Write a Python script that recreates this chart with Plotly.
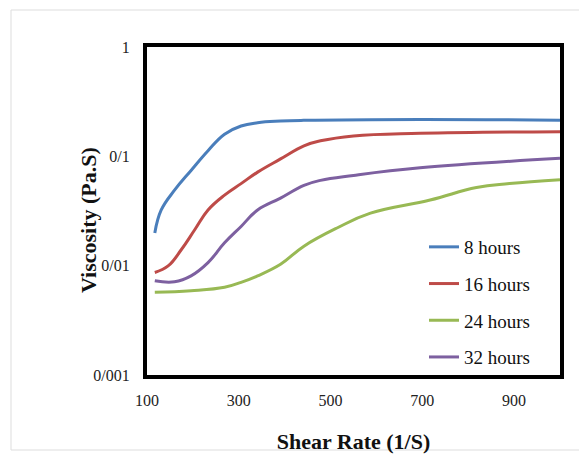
import plotly.graph_objects as go

# Shear-rate sweep (1/S) and viscosity (Pa.S) for each ageing time
shear_8h = [117, 131, 160, 196, 233, 269, 305, 341, 391, 441, 695, 1000]
visc_8h = [0.0199, 0.0323, 0.049, 0.0743, 0.1126, 0.1594, 0.1894, 0.2028, 0.210, 0.2133, 0.2177, 0.2133]

shear_16h = [117, 146, 175, 204, 233, 269, 305, 341, 391, 442, 478, 550, 695, 1000]
visc_16h = [0.00866, 0.00994, 0.01406, 0.0213, 0.0323, 0.0442, 0.0563, 0.0717, 0.0947,
            0.1249, 0.1386, 0.1538, 0.1627, 0.1681]

shear_24h = [117, 196, 269, 305, 341, 391, 442, 514, 587, 717, 818, 890, 1000]
visc_24h = [0.00571, 0.0059, 0.00634, 0.00704, 0.00807, 0.0103, 0.01507, 0.0221, 0.0302,
            0.0398, 0.0518, 0.0563, 0.0612]

shear_32h = [117, 160, 196, 233, 269, 305, 341, 391, 442, 478, 550, 695, 1000]
visc_32h = [0.00727, 0.00712, 0.00807, 0.01067, 0.01617, 0.02284, 0.0323, 0.0415, 0.0543,
            0.0603, 0.0669, 0.0785, 0.0959]

series = [
    ("8 hours", shear_8h, visc_8h, "#4A7EBB"),
    ("16 hours", shear_16h, visc_16h, "#BE4B48"),
    ("24 hours", shear_24h, visc_24h, "#98B954"),
    ("32 hours", shear_32h, visc_32h, "#7D60A0"),
]

x_ticks = [100, 300, 500, 700, 900]
y_ticks = [1, 0.1, 0.01, 0.001]
y_tick_text = ["1", "0/1", "0/01", "0/001"]

SERIF = "Liberation Serif, Times New Roman, serif"

fig = go.Figure()
for i, (name, xs, ys, color) in enumerate(series):
    fig.add_trace(go.Scatter(
        x=xs, y=ys, name=name, mode="lines",
        line=dict(color=color, width=3, shape="spline", smoothing=1.2),
        legendgroup=f"g{i}",
    ))

W, H = 579, 454
L, R, T, B = 147, 19, 47, 79
pw, ph = W - L - R, H - T - B

def px_to_paper_x(px):
    return (px - L) / pw

def px_to_paper_y(py):
    return (H - B - py) / ph

fig.update_layout(
    width=W, height=H,
    margin=dict(l=L, r=R, t=T, b=B, autoexpand=False),
    paper_bgcolor="white", plot_bgcolor="white",
    font=dict(family=SERIF, size=16, color="#222222"),
    showlegend=True,
    legend=dict(
        x=px_to_paper_x(424), y=px_to_paper_y(228),
        xanchor="left", yanchor="top",
        bgcolor="rgba(0,0,0,0)",
        font=dict(family=SERIF, size=19, color="#111111"),
        tracegroupgap=9,
        itemwidth=30,
    ),
    xaxis=dict(
        range=[100, 1000], tickvals=x_ticks,
        showgrid=False, zeroline=False,
        showline=True, linecolor="black", linewidth=4, mirror=True,
        ticks="", ticklabelstandoff=8,
        tickfont=dict(family=SERIF, size=16, color="#222222"),
        title=dict(text="<b>Shear Rate (1/S)</b>", standoff=29,
                   font=dict(family=SERIF, size=22, color="#111111")),
    ),
    yaxis=dict(
        type="log", range=[-3, 0], tickvals=y_ticks, ticktext=y_tick_text,
        showgrid=False, zeroline=False,
        showline=True, linecolor="black", linewidth=4, mirror=True,
        ticks="", ticklabelstandoff=10,
        tickfont=dict(family=SERIF, size=16, color="#222222"),
    ),
    annotations=[dict(
        text="<b>Viscosity (Pa.S)</b>", textangle=-90,
        xref="paper", yref="paper",
        x=px_to_paper_x(88), y=px_to_paper_y(220),
        xanchor="center", yanchor="middle", showarrow=False,
        font=dict(family=SERIF, size=22, color="#111111"),
    )],
    shapes=[dict(
        type="rect", xref="paper", yref="paper",
        x0=px_to_paper_x(11), x1=px_to_paper_x(610),
        y0=px_to_paper_y(450), y1=px_to_paper_y(10),
        line=dict(color="#DDDDDD", width=1), fillcolor="rgba(0,0,0,0)",
        layer="below",
    )],
)

fig.write_html("out.html")
